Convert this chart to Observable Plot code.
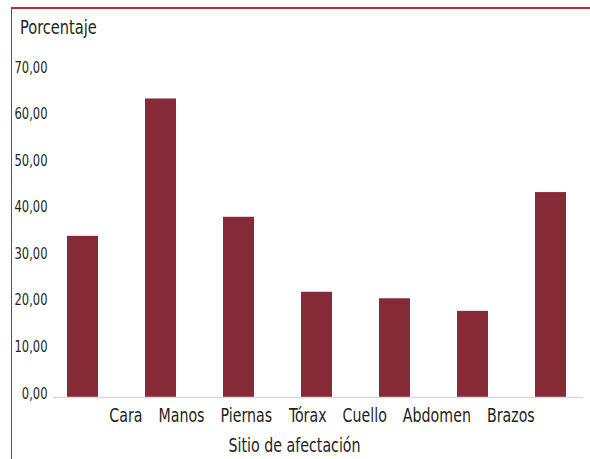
<!DOCTYPE html>
<html>
<head>
<meta charset="utf-8">
<script src="https://cdn.jsdelivr.net/npm/d3@7"></script>
<script src="https://cdn.jsdelivr.net/npm/@observablehq/plot@0.6"></script>
<style>
  html, body { margin: 0; padding: 0; background: #fff; }
  body { width: 590px; height: 459px; overflow: hidden; position: relative;
         font-family: "DejaVu Sans Condensed", "Liberation Sans Narrow", "Arial Narrow", sans-serif; color: #231f20; }
  #frame { position: absolute; left: 11px; top: 7px; width: 600px; height: 470px;
           border-left: 1.5px solid #c1272d; border-top: 2px solid #c1272d; }
  #wrap { position: absolute; left: 0; top: 0; width: 590px; }
  #title { height: 45px; box-sizing: border-box; padding-left: 20px; padding-top: 16px;
           font-size: 19px; line-height: 22px; }
  #title span { display: inline-block; transform: scaleX(0.855); transform-origin: 0 50%; }
  #caption { width: 590px; text-align: center; font-size: 20px; line-height: 22px; }
  #caption span { display: inline-block; transform: scaleX(0.79); transform-origin: 50% 50%; }
</style>
</head>
<body>
<div id="frame"></div>
<div id="wrap">
  <div id="title"><span>Porcentaje</span></div>
  <div id="chart"></div>
  <div id="caption"><span>Sitio de afectación</span></div>
</div>
<script>
const categories = ["Cara", "Manos", "Piernas", "Tórax", "Cuello", "Abdomen", "Brazos"];
const values = [34.6, 64.1, 38.7, 22.6, 21.2, 18.5, 44.0];
const yTicks = [0, 10, 20, 30, 40, 50, 60, 70];

const data = categories.map((c, i) => ({cat: c, val: values[i]}));
const fmt = d => d.toFixed(2).replace(".", ",");

const chart = Plot.plot({
  width: 590,
  height: 389,
  marginLeft: 45,
  marginRight: 2,
  marginTop: 26,
  marginBottom: 37,
  style: {fontFamily: '"DejaVu Sans Condensed", "Liberation Sans Narrow", "Arial Narrow", sans-serif', color: "#231f20", background: "transparent"},
  x: {domain: categories, paddingInner: 0.6, paddingOuter: 0.27, label: null},
  y: {domain: [0, 70], label: null},
  marks: [
    Plot.barY(data, {x: "cat", y: "val", fill: "#862a37"}),
    Plot.ruleY([0], {stroke: "#d9d9d9", strokeWidth: 1.5, insetLeft: 8, insetRight: 5}),
    Plot.axisY({ticks: yTicks, tickFormat: fmt, tickSize: 0, tickPadding: 0, dx: 2, dy: -4, fontSize: 16, label: null}),
    Plot.axisX({tickSize: 0, tickPadding: 11, fontSize: 19.5, label: null})
  ]
});
document.getElementById("chart").appendChild(chart);

// Condense the axis text (the reference uses a condensed face).
function condense(selector, k) {
  chart.querySelectorAll(selector).forEach(t => {
    const w = t.getComputedTextLength();
    t.setAttribute("textLength", (w * k).toFixed(2));
    t.setAttribute("lengthAdjust", "spacingAndGlyphs");
  });
}
condense('g[aria-label="y-axis tick label"] text', 0.8);
condense('g[aria-label="x-axis tick label"] text', 0.81);

// Lay out the category labels as a contiguous row (as in the reference), keeping Plot's text elements.
const labels = Array.from(chart.querySelectorAll('g[aria-label="x-axis tick label"] text'));
if (labels.length) {
  const gap = 16;
  const rects = labels.map(t => t.getBoundingClientRect());
  const total = rects.reduce((s, r) => s + r.width, 0) + gap * (labels.length - 1);
  const svgRect = chart.getBoundingClientRect();
  const center = svgRect.left + 322;
  let cursor = center - total / 2;
  labels.forEach((t, i) => {
    const r = rects[i];
    const want = cursor + r.width / 2;
    const have = r.left + r.width / 2;
    const prev = t.getAttribute("transform") || "";
    t.setAttribute("transform", (prev + ` translate(${want - have},0)`).trim());
    cursor += r.width + gap;
  });
}
</script>
</body>
</html>
